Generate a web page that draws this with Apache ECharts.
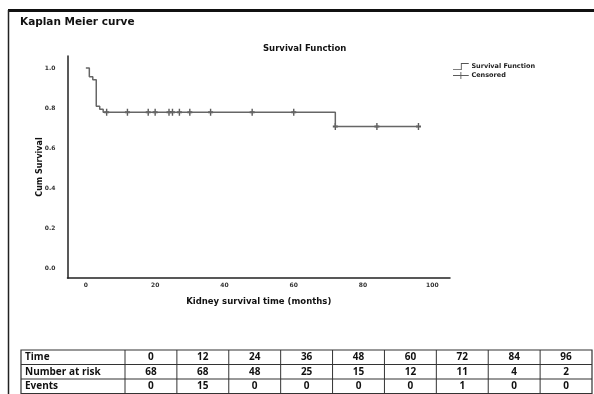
<!DOCTYPE html>
<html>
<head>
<meta charset="utf-8">
<script src="https://cdn.jsdelivr.net/npm/echarts@6.0.0/dist/echarts.min.js"></script>
<style>
	html, body { margin: 0; padding: 0; background: #fff; }
	#main { width: 594px; height: 394px; }
</style>
</head>
<body>
<div id="main"></div>
<script>
// Kaplan-Meier steps (time in months, cumulative survival)
var kmTimes = [0, 1, 2, 3, 4, 5, 72, 96];
var kmSurv = [1, 0.956, 0.941, 0.809, 0.794, 0.779, 0.708, 0.708];
// censored observations (months)
var censorTimes = [6, 12, 18, 20, 24, 25, 27, 30, 36, 48, 60, 72, 84, 96];

var xTicks = [0, 20, 40, 60, 80, 100];
var yTicks = [0, 0.2, 0.4, 0.6, 0.8, 1.0];

// number at risk table
var tableTimes = [0, 12, 24, 36, 48, 60, 72, 84, 96];
var atRisk = [68, 68, 48, 25, 15, 12, 11, 4, 2];
var events = [0, 15, 0, 0, 0, 0, 1, 0, 0];
var rowNames = ['Time', 'Number at risk', 'Events'];

function survAt(t) {
	var s = 1;
	for (var i = 0; i < kmTimes.length; i++) {
		if (kmTimes[i] <= t) s = kmSurv[i];
	}
	return s;
}

var kmData = kmTimes.map(function (t, i) {
	return [t, kmSurv[i]];
});
var censorData = censorTimes.map(function (t) {
	return [t, survAt(t)];
});

// table drawn with graphic elements
var tLeft = 21, tTop = 350, tRight = 592, rowH = 14.5, firstColW = 104;
var colW = (tRight - tLeft - firstColW) / tableTimes.length;
var tableFont = 'bold 10px "Open Sans"';
var graphics = [];
var rows = [tableTimes, atRisk, events];

graphics.push({
	type: 'rect', silent: true,
	shape: { x: tLeft, y: tTop, width: tRight - tLeft, height: rowH * 3 },
	style: { fill: 'none', stroke: '#333', lineWidth: 1.2 }
});
for (var r = 1; r < 3; r++) {
	graphics.push({
		type: 'line', silent: true,
		shape: { x1: tLeft, y1: tTop + rowH * r, x2: tRight, y2: tTop + rowH * r },
		style: { stroke: '#333', lineWidth: 1.2 }
	});
}
for (var c = 0; c < tableTimes.length; c++) {
	var cx = tLeft + firstColW + colW * c;
	graphics.push({
		type: 'line', silent: true,
		shape: { x1: cx, y1: tTop, x2: cx, y2: tTop + rowH * 3 },
		style: { stroke: '#333', lineWidth: 1 }
	});
}
for (r = 0; r < 3; r++) {
	var cy = tTop + rowH * r + rowH / 2;
	graphics.push({
		type: 'text', silent: true,
		style: { text: rowNames[r], x: tLeft + 4, y: cy, font: tableFont, fill: '#111', verticalAlign: 'middle' }
	});
	for (c = 0; c < tableTimes.length; c++) {
		graphics.push({
			type: 'text', silent: true,
			style: {
				text: String(rows[r][c]),
				x: tLeft + firstColW + colW * c + colW / 2, y: cy,
				font: tableFont, fill: '#111', align: 'center', verticalAlign: 'middle'
			}
		});
	}
}
// outer frame
graphics.push({
	type: 'line', silent: true,
	shape: { x1: 8, y1: 10.5, x2: 594, y2: 10.5 },
	style: { stroke: '#111', lineWidth: 3 }
});
graphics.push({
	type: 'line', silent: true,
	shape: { x1: 8.5, y1: 10, x2: 8.5, y2: 394 },
	style: { stroke: '#222', lineWidth: 1.5 }
});

var chart = echarts.init(document.getElementById('main'));

var option = {
	animation: false,
	backgroundColor: '#fff',
	title: [
		{
			text: 'Kaplan Meier curve',
			left: 20, top: 17, padding: 0,
			textStyle: { fontFamily: 'DejaVu Sans', fontWeight: 'bold', fontSize: 10.5, color: '#111' }
		},
		{
			text: 'Survival Function',
			left: 263, top: 44, padding: 0,
			textStyle: { fontFamily: 'DejaVu Sans', fontWeight: 'bold', fontSize: 8.5, color: '#111' }
		}
	],
	legend: {
		orient: 'vertical',
		left: 448, top: 58,
		itemWidth: 17, itemHeight: 7, itemGap: 2,
		textStyle: { fontFamily: 'DejaVu Sans', fontWeight: 'bold', fontSize: 6.5, color: '#222', padding: [0, 0, 0, -3] },
		data: [
			{ name: 'Survival Function', icon: 'path://M0,7 L9,7 L9,0 L18,0 L18,1 L10,1 L10,8 L0,8 Z' },
			{ name: 'Censored', icon: 'path://M0,3.5 L8.5,3.5 L8.5,0 L9.5,0 L9.5,3.5 L18,3.5 L18,4.5 L9.5,4.5 L9.5,8 L8.5,8 L8.5,4.5 L0,4.5 Z' }
		]
	},
	grid: { left: 67.5, right: 144, top: 56, bottom: 116 },
	xAxis: {
		type: 'value',
		min: -5.3, max: 105.1,
		name: 'Kidney survival time (months)',
		nameLocation: 'middle', nameGap: 19,
		nameTextStyle: { fontFamily: 'DejaVu Sans', fontWeight: 'bold', fontSize: 8.5, color: '#111' },
		axisLine: { onZero: false, lineStyle: { color: '#222', width: 1.5 } },
		axisTick: { show: false },
		splitLine: { show: false },
		axisLabel: {
			customValues: xTicks,
			margin: 4,
			fontFamily: 'DejaVu Sans', fontWeight: 'bold', fontSize: 6, color: '#333'
		}
	},
	yAxis: {
		type: 'value',
		min: -0.05, max: 1.06,
		name: 'Cum Survival',
		nameLocation: 'middle', nameGap: 24, nameRotate: 90,
		nameMoveOverlap: false,
		nameTextStyle: { fontFamily: 'DejaVu Sans', fontWeight: 'bold', fontSize: 8, color: '#111' },
		axisLine: { show: true, onZero: false, lineStyle: { color: '#222', width: 1.5 } },
		axisTick: { show: false },
		splitLine: { show: false },
		axisLabel: {
			customValues: yTicks,
			margin: 12,
			formatter: function (v) { return v.toFixed(1); },
			fontFamily: 'DejaVu Sans', fontWeight: 'bold', fontSize: 6, color: '#333'
		}
	},
	series: [
		{
			name: 'Survival Function',
			type: 'line',
			step: 'end',
			showSymbol: false,
			data: kmData,
			itemStyle: { color: '#555' },
			lineStyle: { color: '#666', width: 1.5 }
		},
		{
			name: 'Censored',
			type: 'scatter',
			symbol: 'path://M0,2.5 L5,2.5 L5,4.5 L0,4.5 Z M1.8,0 L3.2,0 L3.2,7 L1.8,7 Z',
			symbolSize: [5, 7],
			data: censorData,
			itemStyle: { color: '#333' }
		}
	],
	graphic: graphics
};
chart.setOption(option);
</script>
</body>
</html>
